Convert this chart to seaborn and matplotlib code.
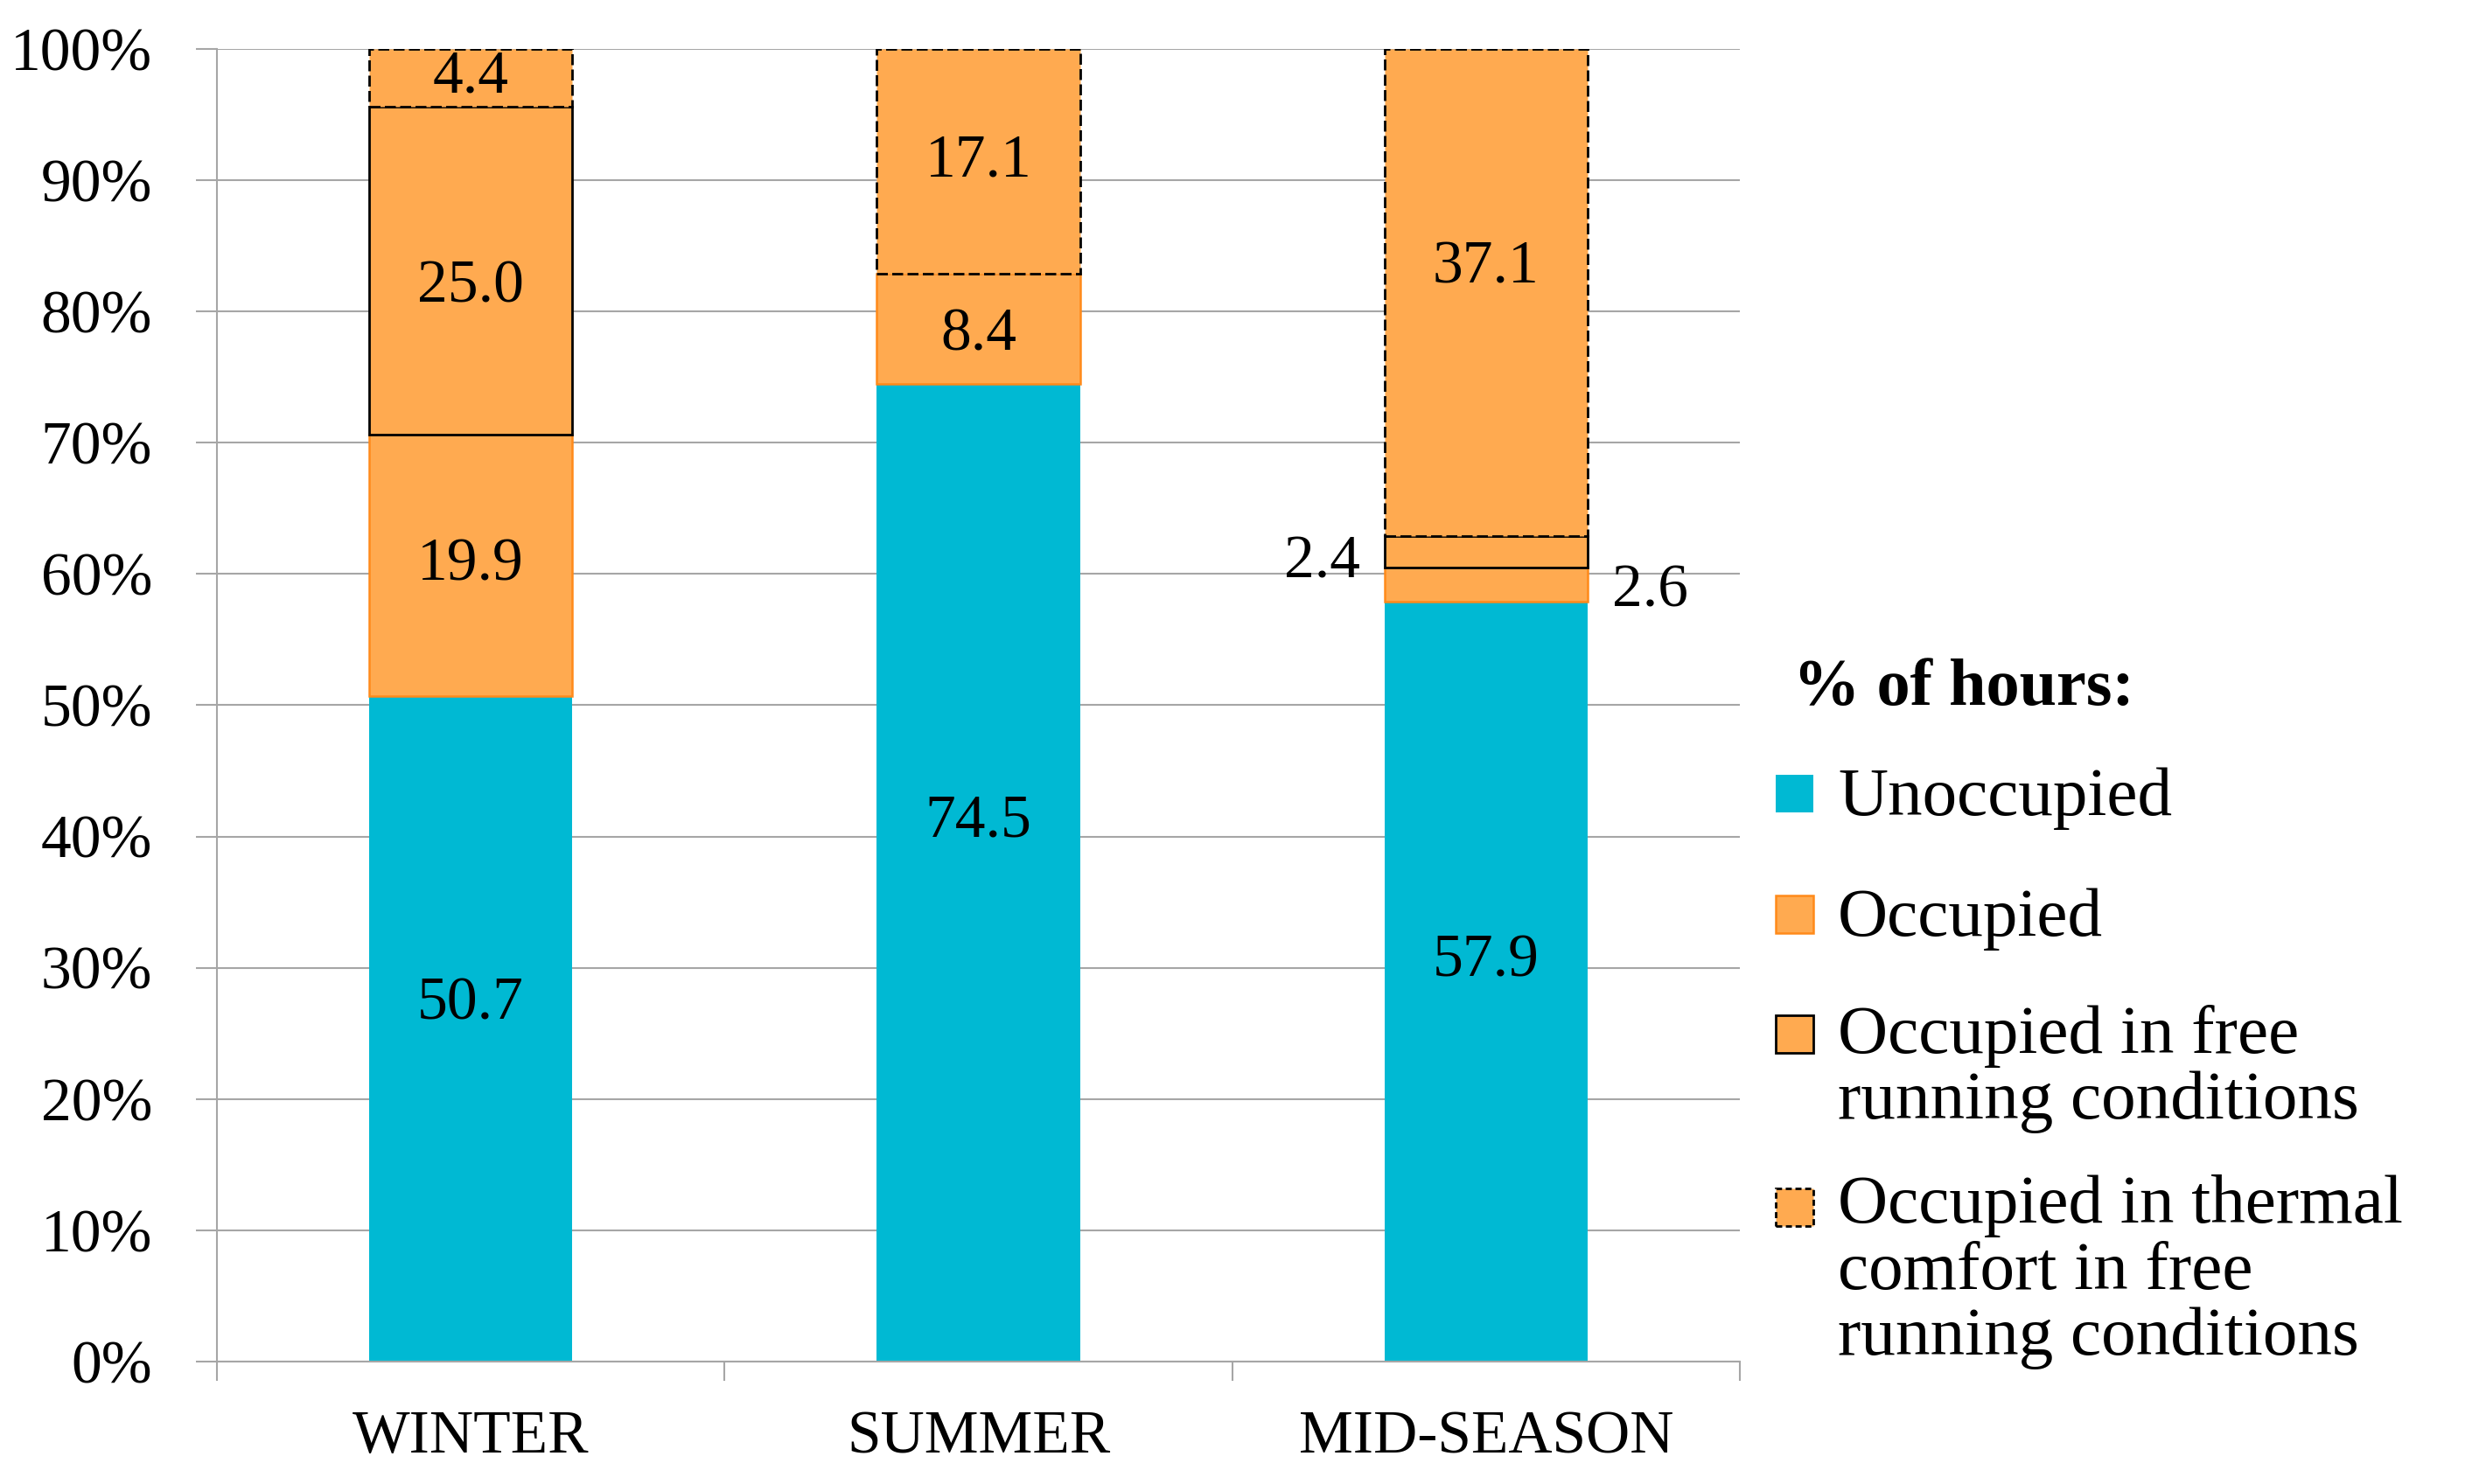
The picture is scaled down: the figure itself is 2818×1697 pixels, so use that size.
import numpy as np
import pandas as pd
import matplotlib
matplotlib.use("Agg")
import matplotlib.pyplot as plt
from matplotlib.patches import Rectangle
import seaborn as sns

# === DATA ===
SEASONS = ["WINTER", "SUMMER", "MID-SEASON"]
UNOCCUPIED = [50.7, 74.5, 57.9]
OCCUPIED = [19.9, 8.4, 2.6]
FREE_RUNNING = [25.0, 0.0, 2.4]
THERMAL_COMFORT = [4.4, 17.1, 37.1]
SERIES_NAMES = [
    "Unoccupied",
    "Occupied",
    "Occupied in free\nrunning conditions",
    "Occupied in thermal\ncomfort in free\nrunning conditions",
]
Y_TICKS = list(range(0, 101, 10))

# === STYLE ===
W_PX, H_PX, DPI = 2818, 1697, 200
BLUE = "#00B9D3"
ORANGE = "#FFAA50"
ORANGE_EDGE = "#FF8A1A"
GRAY = "#A6A6A6"
FONT = ["Liberation Serif", "DejaVu Serif"]
LINE_PX = 72  # distance between legend text lines

STYLES = [
    dict(facecolor=BLUE, edgecolor=BLUE, linewidth=0.0, linestyle="-"),
    dict(facecolor=ORANGE, edgecolor=ORANGE_EDGE, linewidth=0.9, linestyle="-"),
    dict(facecolor=ORANGE, edgecolor="black", linewidth=1.0, linestyle="-"),
    dict(facecolor=ORANGE, edgecolor="black", linewidth=1.0, linestyle=(0, (4.5, 1.8))),
]

# hand-placed label nudges from the original (vertical, points; season idx, layer idx)
LABEL_NUDGE = {(0, 0): 10, (1, 0): 21, (2, 0): 8, (2, 3): 10,
               (0, 2): -7, (2, 2): -4.5, (2, 1): -3, (1, 1): -3}

sns.set_theme(style="white")
plt.rcParams["font.family"] = FONT
plt.rcParams["text.color"] = "black"

fig = plt.figure(figsize=(W_PX / DPI, H_PX / DPI), dpi=DPI)
ax = fig.add_axes([0.088, 0.0825, 0.6178, 0.8845])
ax.set_axisbelow(True)
ax.yaxis.grid(True, color=GRAY, linewidth=0.75)

layers = [UNOCCUPIED, OCCUPIED, FREE_RUNNING, THERMAL_COMFORT]
bottom = np.zeros(len(SEASONS))
for k, (vals, st) in enumerate(zip(layers, STYLES)):
    sns.barplot(
        x=SEASONS, y=vals, bottom=bottom, color=st["facecolor"],
        edgecolor=st["edgecolor"], linewidth=st["linewidth"], linestyle=st["linestyle"],
        width=0.4, saturation=1, errorbar=None, ax=ax,
    )
    for p in ax.patches[-len(SEASONS):]:
        if p.get_height() == 0:
            p.set_visible(False)
    for i, v in enumerate(vals):
        if v == 0:
            continue
        mid = bottom[i] + v / 2
        dy = LABEL_NUDGE.get((i, k), 0)
        if v >= 3:
            xy, dx, ha = (i, mid), 0, "center"
        elif k == 2:
            xy, dx, ha = (i - 0.2, mid), -10, "right"
        else:
            xy, dx, ha = (i + 0.2, mid), 10, "left"
        ax.annotate(f"{v:.1f}", xy, xytext=(dx, dy), textcoords="offset points",
                    ha=ha, va="center", fontsize=25, color="black")
    bottom = bottom + np.array(vals)

ax.set_xlim(-0.5, 2.5)
ax.set_ylim(0, 100)
ax.set_xlabel("")
ax.set_ylabel("")
ax.set_yticks(Y_TICKS, [f"{t}%" for t in Y_TICKS])
ax.set_xticks(np.arange(-0.5, len(SEASONS), 1.0), minor=True)
ax.tick_params(axis="x", which="major", length=0, pad=20, labelsize=25, labelcolor="black")
ax.tick_params(axis="x", which="minor", length=8, width=0.75, color=GRAY, bottom=True)
ax.tick_params(axis="y", length=8.6, width=0.75, color=GRAY, pad=18, labelsize=25,
               labelcolor="black", left=True)
for s in ["top", "right"]:
    ax.spines[s].set_visible(False)
for s in ["left", "bottom"]:
    ax.spines[s].set_color(GRAY)
    ax.spines[s].set_linewidth(0.75)

# === LEGEND (drawn by hand so the swatch sits on the first line) ===
def fx(x):
    return x / W_PX

def fy(y):
    return 1 - y / H_PX

fig.text(fx(2050), fy(806), "% of hours:", fontsize=27.5, fontweight="bold",
         va="baseline", color="black")
first_baselines = [932, 1070, 1207, 1405]
for name, st, base in zip(SERIES_NAMES, STYLES, first_baselines):
    n_lines = name.count("\n") + 1
    fig.add_artist(Rectangle((fx(2030), fy(base - 3)), fx(43), 43 / H_PX,
                             transform=fig.transFigure, facecolor=st["facecolor"],
                             edgecolor=st["edgecolor"], linewidth=st["linewidth"],
                             linestyle="-" if st["linestyle"] == "-" else (0, (2.5, 1.5))))
    # multi-line text with va="baseline" sits on its last line
    fig.text(fx(2101), fy(base + (n_lines - 1) * LINE_PX), name, fontsize=28.5,
             va="baseline", linespacing=1.07, color="black")

fig.savefig("out.png", dpi=DPI)
